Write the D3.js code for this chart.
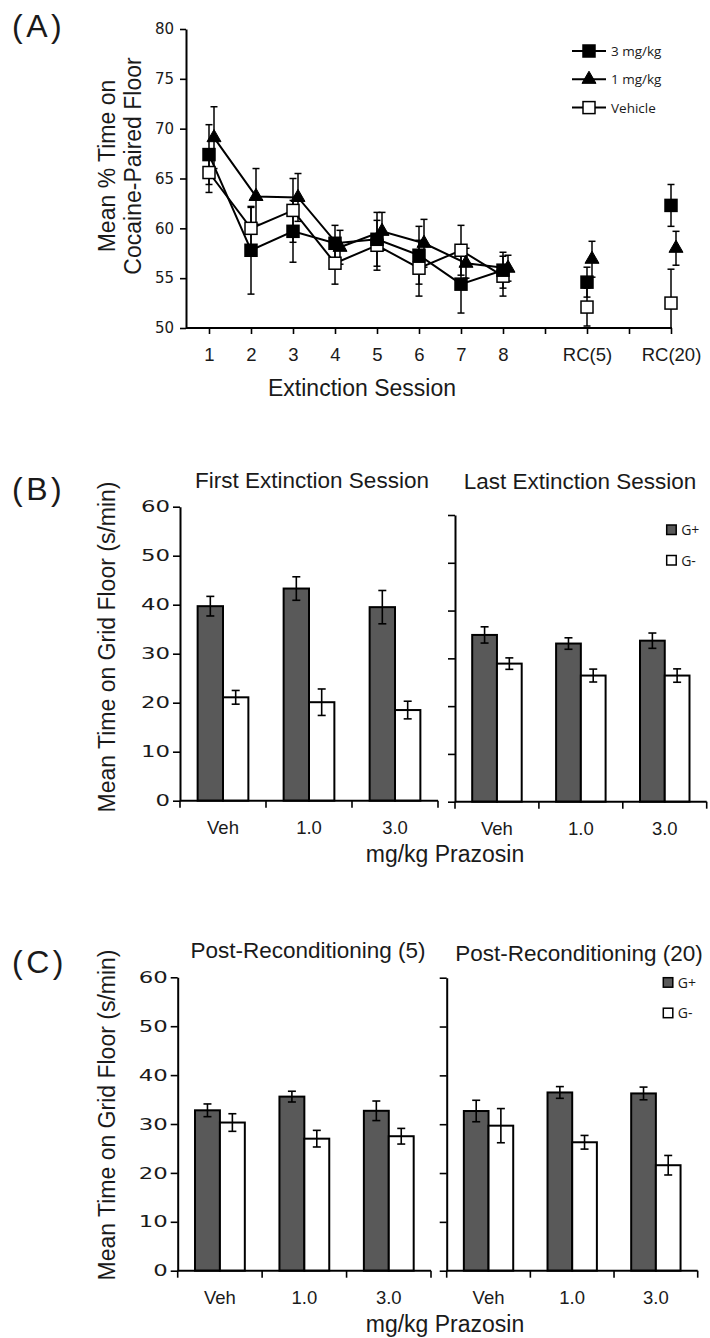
<!DOCTYPE html>
<html>
<head>
<meta charset="utf-8">
<script src="https://cdn.jsdelivr.net/npm/d3@7"></script>
<style>
  body { margin: 0; background: #fff; }
  svg text { fill: #1a1a1a; }
</style>
</head>
<body>
<svg id="chart" width="710" height="1338"></svg>
<script>
// ---- panel A: extinction sessions (mean % time on cocaine-paired floor)
const sessionLabels = ["1", "2", "3", "4", "5", "6", "7", "8", "", "RC(5)", "", "RC(20)"];
const dose3Mean = [67.4, 57.8, 59.7, 58.5, 58.9, 57.3, 54.4, 55.8, null, 54.6, null, 62.3];
const dose3Err  = [3.0, 4.4, 3.1, 1.8, 2.7, 2.9, 2.9, 1.8, null, 1.5, null, 2.1];
const dose1Mean = [69.1, 63.2, 63.1, 58.1, 59.7, 58.5, 56.5, 56.0, null, 56.9, null, 58.0];
const dose1Err  = [3.1, 2.8, 2.4, 1.7, 1.9, 2.4, 1.5, 1.3, null, 1.8, null, 1.7];
const vehMean   = [65.6, 60.0, 61.8, 56.5, 58.3, 56.0, 57.8, 55.2, null, 52.1, null, 52.5];
const vehErr    = [2.0, 2.1, 3.2, 2.1, 2.5, 2.8, 2.5, 2.0, null, 1.9, null, 3.4];
const seriesNames = ["3 mg/kg", "1 mg/kg", "Vehicle"];

// ---- panels B and C: time on grid floor (s/min)
const doseLabels = ["Veh", "1.0", "3.0"];
const groupNames = ["G+", "G-"];
const firstGPlus = [39.7, 43.3, 39.5],  firstGPlusErr = [2.0, 2.4, 3.4];
const firstGMinus = [21.1, 20.1, 18.5], firstGMinusErr = [1.4, 2.7, 1.8];
const lastGPlus = [34.9, 33.1, 33.7],   lastGPlusErr = [1.7, 1.2, 1.6];
const lastGMinus = [28.9, 26.4, 26.4],  lastGMinusErr = [1.2, 1.35, 1.4];
const rc5GPlus = [32.8, 35.6, 32.7],    rc5GPlusErr = [1.3, 1.1, 2.0];
const rc5GMinus = [30.3, 27.0, 27.5],   rc5GMinusErr = [1.8, 1.7, 1.6];
const rc20GPlus = [32.7, 36.5, 36.3],   rc20GPlusErr = [2.2, 1.2, 1.3];
const rc20GMinus = [29.7, 26.3, 21.6],  rc20GMinusErr = [3.5, 1.4, 2.0];

const SANS = "'Liberation Sans', Arial, sans-serif";
const TICKF = "'DejaVu Sans', Verdana, sans-serif";
const LEGF = "'Open Sans', sans-serif";
const DARK = "#595959";

const svg = d3.select("#chart");

function styleAxis(g) {
  g.select(".domain").attr("stroke", "#000").attr("stroke-width", 2);
  g.selectAll(".tick line").attr("stroke", "#000").attr("stroke-width", 1.6);
}

function label(txt, x, y, size, anchor, family) {
  return svg.append("text")
    .attr("x", x).attr("y", y)
    .attr("font-family", family || SANS)
    .attr("font-size", size)
    .attr("text-anchor", anchor || "middle")
    .text(txt);
}

// ================= Panel A =================
label("(A)", 12, 37, 32, "start").attr("letter-spacing", 3.5);

const xA = d3.scalePoint().domain(d3.range(sessionLabels.length)).range([209, 671]);
const yA = d3.scaleLinear().domain([50, 80]).range([328, 29]);
const gA = svg.append("g");

gA.append("g")
  .attr("transform", "translate(186,0)")
  .call(d3.axisLeft(yA).tickValues(d3.range(50, 81, 5)).tickSize(6).tickSizeOuter(0).tickPadding(6))
  .call(styleAxis)
  .call(g => g.selectAll("text").attr("font-family", TICKF).attr("font-size", 15).attr("fill", "#1a1a1a"));

gA.append("g")
  .attr("transform", "translate(0,328)")
  .call(d3.axisBottom(xA).tickFormat(i => sessionLabels[i]).tickSize(6).tickPadding(14))
  .call(styleAxis)
  .call(g => g.select(".domain").remove())
  .call(g => g.selectAll("text").attr("font-family", SANS).attr("font-size", 18.5).attr("fill", "#1a1a1a"));
gA.append("line").attr("x1", 186).attr("x2", 672).attr("y1", 328).attr("y2", 328)
  .attr("stroke", "#000").attr("stroke-width", 2);

svg.append("text")
  .attr("transform", "translate(115,166) rotate(-90)")
  .attr("font-family", SANS).attr("font-size", 23).attr("text-anchor", "middle")
  .text("Mean % Time on");
svg.append("text")
  .attr("transform", "translate(141,166) rotate(-90)")
  .attr("font-family", SANS).attr("font-size", 23).attr("text-anchor", "middle")
  .text("Cocaine-Paired Floor");
label("Extinction Session", 362, 396, 23);

const seriesA = [
  { name: seriesNames[2], mean: vehMean, err: vehErr, shape: "square", fill: "#fff", dx: 0 },
  { name: seriesNames[0], mean: dose3Mean, err: dose3Err, shape: "square", fill: "#000", dx: 0 },
  { name: seriesNames[1], mean: dose1Mean, err: dose1Err, shape: "triangle", fill: "#000", dx: 5 }
];

const clampA = v => Math.max(50, Math.min(80, v));

// error bars
seriesA.forEach(s => {
  const pts = s.mean.map((m, i) => ({ i, m, e: s.err[i] })).filter(d => d.m != null);
  const eg = gA.append("g").attr("stroke", "#000").attr("stroke-width", 1.5);
  eg.selectAll("line.v").data(pts).join("line")
    .attr("x1", d => xA(d.i) + s.dx).attr("x2", d => xA(d.i) + s.dx)
    .attr("y1", d => yA(clampA(d.m - d.e))).attr("y2", d => yA(clampA(d.m + d.e)));
  eg.selectAll("line.t").data(pts).join("line")
    .attr("x1", d => xA(d.i) + s.dx - 3.5).attr("x2", d => xA(d.i) + s.dx + 3.5)
    .attr("y1", d => yA(clampA(d.m + d.e))).attr("y2", d => yA(clampA(d.m + d.e)));
  eg.selectAll("line.b").data(pts.filter(d => d.m - d.e > 50)).join("line")
    .attr("x1", d => xA(d.i) + s.dx - 3.5).attr("x2", d => xA(d.i) + s.dx + 3.5)
    .attr("y1", d => yA(d.m - d.e)).attr("y2", d => yA(d.m - d.e));
});

// connecting lines (extinction sessions 1-8 only)
seriesA.forEach(s => {
  gA.append("path")
    .datum(s.mean.map((m, i) => ({ i, m })))
    .attr("fill", "none").attr("stroke", "#000").attr("stroke-width", 2)
    .attr("d", d3.line().defined(d => d.m != null && d.i < 8)
      .x(d => xA(d.i) + s.dx).y(d => yA(d.m)));
});

function drawMarker(g, shape, fill, x, y) {
  if (shape === "square") {
    g.append("rect").attr("x", x - 6).attr("y", y - 6).attr("width", 12).attr("height", 12)
      .attr("fill", fill).attr("stroke", "#000").attr("stroke-width", 1.5);
  } else {
    g.append("path").attr("transform", `translate(${x},${y})`)
      .attr("d", d3.symbol(d3.symbolTriangle, 85)())
      .attr("fill", fill).attr("stroke", "#000").attr("stroke-width", 1);
  }
}

seriesA.forEach(s => {
  s.mean.forEach((m, i) => {
    if (m != null) drawMarker(gA, s.shape, s.fill, xA(i) + s.dx, yA(m));
  });
});

// legend A
const legA = [
  { name: seriesNames[0], shape: "square", fill: "#000" },
  { name: seriesNames[1], shape: "triangle", fill: "#000" },
  { name: seriesNames[2], shape: "square", fill: "#fff" }
];
legA.forEach((d, k) => {
  const y = 51 + k * 28.3;
  svg.append("line").attr("x1", 572).attr("x2", 606).attr("y1", y).attr("y2", y)
    .attr("stroke", "#000").attr("stroke-width", 2);
  drawMarker(svg, d.shape, d.fill, 589, y);
  label(d.name, 611, y + 5, 13.5, "start", LEGF);
});

// ================= Bar panels =================
function barPanel(cfg) {
  const x = d3.scaleBand().domain(doseLabels).range([cfg.x0, cfg.x1]);
  const bw = x.bandwidth();
  const sub = d3.scaleBand().domain(groupNames).range([0, bw]).paddingOuter(0.695);
  const y = d3.scaleLinear().domain([0, 60]).range([cfg.yb, cfg.yt]);
  const g = svg.append("g");

  const rows = [];
  doseLabels.forEach((dl, i) => {
    rows.push({ dose: dl, grp: "G+", v: cfg.plus[i], e: cfg.plusErr[i] });
    rows.push({ dose: dl, grp: "G-", v: cfg.minus[i], e: cfg.minusErr[i] });
  });

  g.selectAll("rect.bar").data(rows).join("rect")
    .attr("x", d => x(d.dose) + sub(d.grp))
    .attr("width", sub.bandwidth())
    .attr("y", d => y(d.v))
    .attr("height", d => y(0) - y(d.v))
    .attr("fill", d => d.grp === "G+" ? DARK : "#fff")
    .attr("stroke", "#000").attr("stroke-width", 2);

  const cx = d => x(d.dose) + sub(d.grp) + sub.bandwidth() / 2;
  const eg = g.append("g").attr("stroke", "#000").attr("stroke-width", 1.6);
  eg.selectAll("line.v").data(rows).join("line")
    .attr("x1", cx).attr("x2", cx)
    .attr("y1", d => y(d.v - d.e)).attr("y2", d => y(d.v + d.e));
  [1, -1].forEach(sg => {
    eg.selectAll(null).data(rows).join("line")
      .attr("x1", d => cx(d) - 4).attr("x2", d => cx(d) + 4)
      .attr("y1", d => y(d.v + sg * d.e)).attr("y2", d => y(d.v + sg * d.e));
  });

  // y axis
  const yAxis = d3.axisLeft(y).tickValues(d3.range(0, 61, 10)).tickSize(7).tickSizeOuter(0).tickPadding(3);
  if (!cfg.labels) yAxis.tickFormat("");
  g.append("g").attr("transform", `translate(${cfg.x0},0)`)
    .call(yAxis).call(styleAxis)
    .call(a => a.selectAll("text")
      .attr("font-family", TICKF).attr("font-size", 16).attr("fill", "#1a1a1a")
      .attr("textLength", t => String(t).length * 14.5)
      .attr("lengthAdjust", "spacingAndGlyphs"));

  // x axis: line, boundary ticks, category labels
  g.append("line").attr("x1", cfg.x0).attr("x2", cfg.x1).attr("y1", cfg.yb).attr("y2", cfg.yb)
    .attr("stroke", "#000").attr("stroke-width", 2);
  const edges = doseLabels.map(d => x(d)).concat([cfg.x1]);
  g.selectAll("line.edge").data(edges).join("line")
    .attr("x1", d => d).attr("x2", d => d).attr("y1", cfg.yb).attr("y2", cfg.yb + 7)
    .attr("stroke", "#000").attr("stroke-width", 1.6);
  g.selectAll("text.cat").data(doseLabels).join("text")
    .attr("x", d => x(d) + bw / 2).attr("y", cfg.yb + 33)
    .attr("font-family", SANS).attr("font-size", 18.5).attr("text-anchor", "middle")
    .text(d => d);

  label(cfg.title, cfg.tx, cfg.ty, 22.5);

  if (cfg.legend) {
    groupNames.forEach((gn, k) => {
      const ly = cfg.legend[1] + k * 30.5;
      svg.append("rect").attr("x", cfg.legend[0]).attr("y", ly).attr("width", 9.5).attr("height", 9.5)
        .attr("fill", gn === "G+" ? DARK : "#fff").attr("stroke", "#000").attr("stroke-width", 1.5);
      label(gn, cfg.legend[0] + 14.5, ly + 10, 14, "start", LEGF);
    });
  }
}

// Panel B
label("(B)", 12, 500, 32, "start").attr("letter-spacing", 3.5);
svg.append("text")
  .attr("transform", "translate(115,647) rotate(-90)")
  .attr("font-family", SANS).attr("font-size", 23).attr("text-anchor", "middle")
  .text("Mean Time on Grid Floor (s/min)");
barPanel({ x0: 180, x1: 438, yt: 506.7, yb: 800.7, labels: true,
  plus: firstGPlus, plusErr: firstGPlusErr, minus: firstGMinus, minusErr: firstGMinusErr,
  title: "First Extinction Session", tx: 312, ty: 488 });
barPanel({ x0: 455, x1: 706.7, yt: 515, yb: 801.7, labels: false,
  plus: lastGPlus, plusErr: lastGPlusErr, minus: lastGMinus, minusErr: lastGMinusErr,
  title: "Last Extinction Session", tx: 580, ty: 489, legend: [666.7, 525] });
label("mg/kg Prazosin", 445, 862, 23);

// Panel C
label("(C)", 12, 973, 32, "start").attr("letter-spacing", 3.5);
svg.append("text")
  .attr("transform", "translate(115,1115) rotate(-90)")
  .attr("font-family", SANS).attr("font-size", 23).attr("text-anchor", "middle")
  .text("Mean Time on Grid Floor (s/min)");
barPanel({ x0: 177.7, x1: 431, yt: 977.3, yb: 1270.7, labels: true,
  plus: rc5GPlus, plusErr: rc5GPlusErr, minus: rc5GMinus, minusErr: rc5GMinusErr,
  title: "Post-Reconditioning (5)", tx: 308, ty: 958 });
barPanel({ x0: 446.7, x1: 697.7, yt: 977.7, yb: 1270.7, labels: false,
  plus: rc20GPlus, plusErr: rc20GPlusErr, minus: rc20GMinus, minusErr: rc20GMinusErr,
  title: "Post-Reconditioning (20)", tx: 579, ty: 961, legend: [663.3, 977.7] });
label("mg/kg Prazosin", 445, 1332, 23);
</script>
</body>
</html>
